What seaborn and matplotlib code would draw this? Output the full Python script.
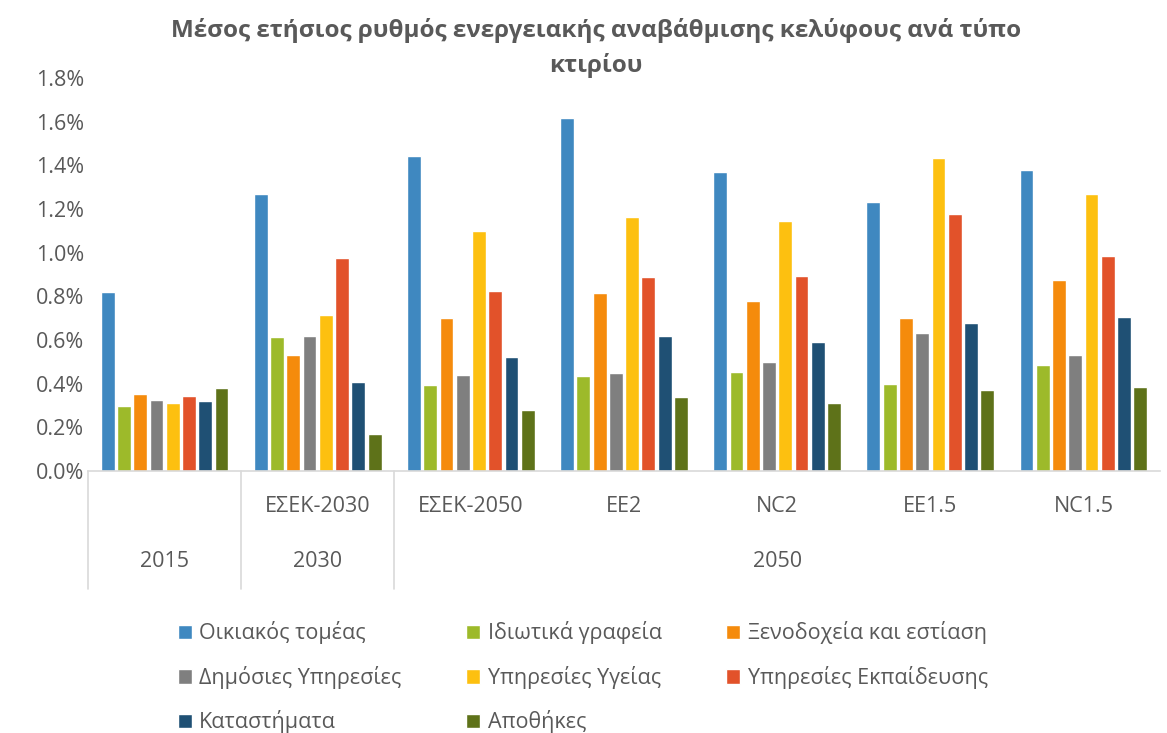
import matplotlib
matplotlib.use("Agg")
import matplotlib.pyplot as plt
import seaborn as sns
import pandas as pd
from matplotlib.ticker import PercentFormatter
from matplotlib.transforms import blended_transform_factory

scenarios = ["2015", "ΕΣΕΚ-2030", "ΕΣΕΚ-2050", "EE2", "NC2", "EE1.5", "NC1.5"]
scenario_labels = ["", "ΕΣΕΚ-2030", "ΕΣΕΚ-2050", "EE2", "NC2", "EE1.5", "NC1.5"]
years = ["2015", "2030", "2050"]
sectors = ["Οικιακός τομέας", "Ιδιωτικά γραφεία", "Ξενοδοχεία και εστίαση",
           "Δημόσιες Υπηρεσίες", "Υπηρεσίες Υγείας", "Υπηρεσίες Εκπαίδευσης",
           "Καταστήματα", "Αποθήκες"]

# values in % per scenario
oikiakos     = [0.82, 1.27, 1.445, 1.615, 1.37, 1.23, 1.38]
idiotika     = [0.30, 0.615, 0.395, 0.435, 0.455, 0.40, 0.485]
xenodoxeia   = [0.355, 0.53, 0.70, 0.815, 0.78, 0.70, 0.875]
dimosies     = [0.325, 0.62, 0.44, 0.45, 0.50, 0.63, 0.53]
ygeias       = [0.31, 0.715, 1.10, 1.165, 1.145, 1.435, 1.27]
ekpaideusis  = [0.345, 0.975, 0.825, 0.89, 0.895, 1.175, 0.985]
katastimata  = [0.32, 0.41, 0.52, 0.62, 0.59, 0.68, 0.705]
apothikes    = [0.38, 0.17, 0.28, 0.34, 0.31, 0.37, 0.385]

series = [oikiakos, idiotika, xenodoxeia, dimosies, ygeias, ekpaideusis, katastimata, apothikes]
colors = ["#3F88C0", "#9DBA2A", "#F58B0C", "#7F7F7F", "#FDC010", "#E2522A", "#1F5074", "#5E7219"]

rows = []
for sec, vals in zip(sectors, series):
    for sc, v in zip(scenarios, vals):
        rows.append({"scenario": sc, "sector": sec, "value": v / 100.0})
df = pd.DataFrame(rows)

sns.set_theme(style="white")
plt.rcParams["font.family"] = ["Open Sans", "DejaVu Sans"]
grey = "#595959"
fs = 15.5

fig = plt.figure(figsize=(11.67, 7.33), dpi=100)
ax = fig.add_axes([0.0754, 0.3574, 0.9186, 0.5362])

sns.barplot(data=df, x="scenario", y="value", hue="sector", order=scenarios,
            hue_order=sectors, palette=colors, width=0.85, gap=0.15,
            saturation=1, ax=ax, legend=True)

ax.set_ylim(0, 0.018)
ax.set_yticks([i * 0.002 for i in range(10)])
ax.yaxis.set_major_formatter(PercentFormatter(xmax=1, decimals=1))
ax.tick_params(axis="y", labelsize=fs, labelcolor=grey, length=0, pad=3)
ax.set_xticks(range(len(scenarios)))
ax.set_xticklabels([])
ax.tick_params(axis="x", length=0)
ax.set_xlim(-0.5, len(scenarios) - 0.5)
ax.set_xlabel("")
ax.set_ylabel("")
for s in ["top", "right", "left"]:
    ax.spines[s].set_visible(False)
ax.spines["bottom"].set_color("#D9D9D9")
ax.spines["bottom"].set_linewidth(1.2)

trans = blended_transform_factory(ax.transData, ax.transAxes)
for i, lab in enumerate(scenario_labels):
    ax.text(i, -0.089, lab, transform=trans, ha="center", va="center",
            fontsize=fs, color=grey)
# year group labels
year_pos = [0, 1, 4]
for yp, yl in zip(year_pos, years):
    ax.text(yp, -0.229, yl, transform=trans, ha="center", va="center",
            fontsize=fs, color=grey)
# separators
for xb in [-0.5, 0.5, 1.5]:
    ax.plot([xb, xb], [0, -0.30], transform=trans, color="#D9D9D9",
            lw=1.2, clip_on=False)

# title
fig.text(0.511, 0.958, "Μέσος ετήσιος ρυθμός ενεργειακής αναβάθμισης κελύφους ανά τύπο",
         ha="center", va="center", fontsize=17.5, fontweight="bold", color=grey)
fig.text(0.511, 0.911, "κτιρίου", ha="center", va="center", fontsize=17.5,
         fontweight="bold", color=grey)

handles, labels = ax.get_legend_handles_labels()
ax.get_legend().remove()
order = [0, 3, 6, 1, 4, 7, 2, 5]
leg = fig.legend([handles[i] for i in order], [labels[i] for i in order],
                 ncol=3, loc="upper left", bbox_to_anchor=(0.145, 0.164),
                 frameon=False, fontsize=fs, handlelength=0.65, handleheight=0.65,
                 handletextpad=0.35, columnspacing=3.0, labelspacing=1.0,
                 borderaxespad=0)
for t in leg.get_texts():
    t.set_color(grey)

fig.savefig("out.png", dpi=100)
